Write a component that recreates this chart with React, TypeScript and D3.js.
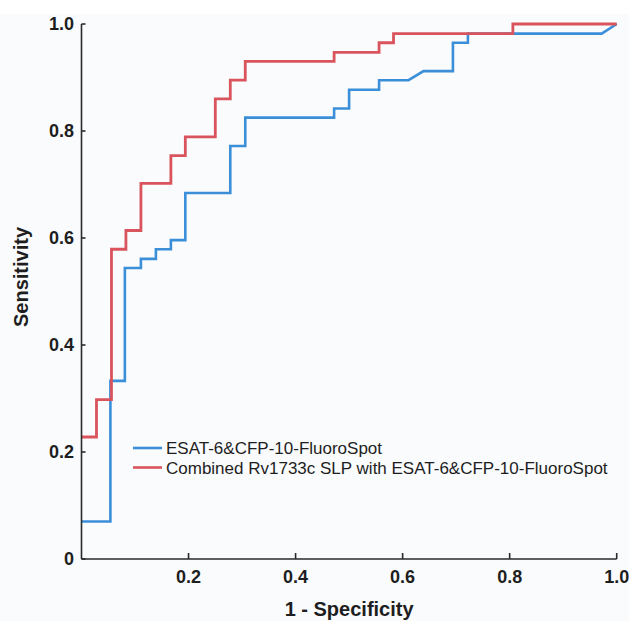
import React from "react";
import * as d3 from "d3";

const seriesNames = [
  "ESAT-6&CFP-10-FluoroSpot",
  "Combined Rv1733c SLP with ESAT-6&CFP-10-FluoroSpot",
];

// ESAT-6&CFP-10-FluoroSpot ROC points (1 - specificity, sensitivity)
const esatFpr = [0, 0.054, 0.054, 0.081, 0.081, 0.111, 0.111, 0.139, 0.139, 0.167, 0.167, 0.194, 0.194, 0.278, 0.278, 0.306, 0.306, 0.472, 0.472, 0.5, 0.5, 0.556, 0.556, 0.611, 0.639, 0.694, 0.694, 0.722, 0.722, 0.972, 1];
const esatTpr = [0.07, 0.07, 0.333, 0.333, 0.544, 0.544, 0.561, 0.561, 0.579, 0.579, 0.596, 0.596, 0.684, 0.684, 0.772, 0.772, 0.825, 0.825, 0.842, 0.842, 0.877, 0.877, 0.895, 0.895, 0.912, 0.912, 0.965, 0.965, 0.982, 0.982, 1];

// Combined Rv1733c SLP with ESAT-6&CFP-10-FluoroSpot ROC points
const combFpr = [0, 0.028, 0.028, 0.056, 0.056, 0.083, 0.083, 0.111, 0.111, 0.167, 0.167, 0.194, 0.194, 0.25, 0.25, 0.278, 0.278, 0.306, 0.306, 0.472, 0.472, 0.556, 0.556, 0.583, 0.583, 0.806, 0.806, 1];
const combTpr = [0.228, 0.228, 0.298, 0.298, 0.579, 0.579, 0.614, 0.614, 0.702, 0.702, 0.754, 0.754, 0.789, 0.789, 0.86, 0.86, 0.895, 0.895, 0.93, 0.93, 0.947, 0.947, 0.965, 0.965, 0.982, 0.982, 1, 1];

const xTicks = [0.2, 0.4, 0.6, 0.8, 1.0];
const xTickLabels = ["0.2", "0.4", "0.6", "0.8", "1.0"];
const yTicks = [0, 0.2, 0.4, 0.6, 0.8, 1.0];
const yTickLabels = ["0", "0.2", "0.4", "0.6", "0.8", "1.0"];

const colors = ["#3b8fd9", "#d9545c"];

export default function App() {
  const W = 629, H = 621;
  const x = d3.scaleLinear().domain([0, 1]).range([81.5, 616.7]);
  const y = d3.scaleLinear().domain([0, 1]).range([559, 24]);
  const line = d3.line<[number, number]>().x((d) => x(d[0])).y((d) => y(d[1]));
  const esat: [number, number][] = esatFpr.map((v, i) => [v, esatTpr[i]]);
  const comb: [number, number][] = combFpr.map((v, i) => [v, combTpr[i]]);
  const font = "'Liberation Sans', Arial, Helvetica, sans-serif";
  const axisColor = "#2a2a2a";
  const textColor = "#1e1e1e";

  return (
    <svg width={W} height={H} style={{ position: "absolute", left: 0, top: 0 }} fontFamily={font}>
      <rect x={0} y={0} width={W} height={H} fill="#ffffff" />
      <rect x={0} y={14} width={W} height={H - 14} fill="#fafbfd" />

      {/* curves */}
      <path d={line(esat) || ""} fill="none" stroke={colors[0]} strokeWidth={2.6} strokeLinejoin="miter" />
      <path d={line(comb) || ""} fill="none" stroke={colors[1]} strokeWidth={2.8} strokeLinejoin="miter" />

      {/* axes */}
      <line x1={x(0)} x2={x(0)} y1={y(1)} y2={y(0)} stroke={axisColor} strokeWidth={1.6} />
      <line x1={x(0)} x2={x(1)} y1={y(0)} y2={y(0)} stroke={axisColor} strokeWidth={1.6} />
      {yTicks.map((t, i) => (
        <g key={"y" + i}>
          <line x1={x(0)} x2={x(0) + 4} y1={y(t)} y2={y(t)} stroke={axisColor} strokeWidth={1.6} />
          <text x={74} y={y(t)} dy="0.36em" textAnchor="end" fontSize={18} fontWeight="bold" fill={textColor}>
            {yTickLabels[i]}
          </text>
        </g>
      ))}
      {xTicks.map((t, i) => (
        <g key={"x" + i}>
          <line x1={x(t)} x2={x(t)} y1={y(0)} y2={y(0) - 6} stroke={axisColor} strokeWidth={1.6} />
          <text x={x(t)} y={583} textAnchor="middle" fontSize={18} fontWeight="bold" fill={textColor}>
            {xTickLabels[i]}
          </text>
        </g>
      ))}

      {/* axis titles */}
      <text x={x(0.5)} y={616} textAnchor="middle" fontSize={20} fontWeight="bold" fill={textColor}>
        1 - Specificity
      </text>
      <text transform={`translate(27.5,277) rotate(-90)`} textAnchor="middle" fontSize={20} fontWeight="bold" fill={textColor}>
        Sensitivity
      </text>

      {/* legend */}
      {seriesNames.map((name, i) => (
        <g key={"l" + i}>
          <line x1={133} x2={162} y1={448 + i * 19.5} y2={448 + i * 19.5} stroke={colors[i]} strokeWidth={2.6} />
          <text x={166} y={448 + i * 19.5} dy="0.36em" fontSize={17} fill={textColor}>
            {name}
          </text>
        </g>
      ))}
    </svg>
  );
}
